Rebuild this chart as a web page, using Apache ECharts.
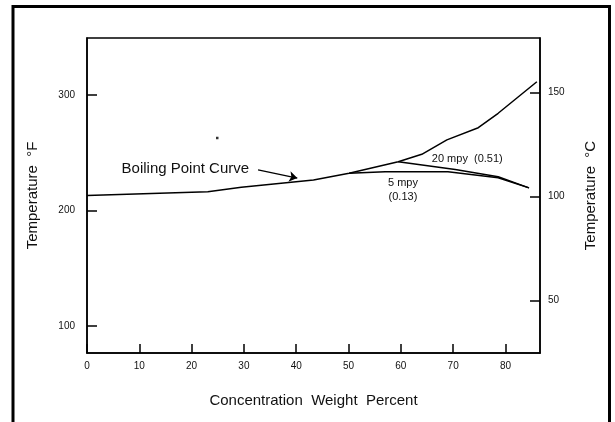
<!DOCTYPE html>
<html>
<head>
<meta charset="utf-8">
<script src="https://cdn.jsdelivr.net/npm/echarts@6/dist/echarts.min.js"></script>
<style>
  html, body { margin: 0; padding: 0; background: #fff; }
  #main { width: 615px; height: 422px; }
</style>
</head>
<body>
<div id="main"></div>
<script>
// tick labels
var xTicks = [0, 10, 20, 30, 40, 50, 60, 70, 80]
var fTicks = [100, 200, 300]
var cTicks = [50, 100, 150]

// boiling point curve (wt %, deg F)
var bpConc = [0, 23.1, 29.5, 43.3, 50.1, 59.5, 64.0, 68.8, 74.8, 78.6, 86.0]
var bpTemp = [213, 216.3, 220.1, 226.4, 232.2, 242.3, 248.7, 261.2, 271.7, 284.2, 311.5]

// 5 mpy (0.13) iso-corrosion line
var mpy5Conc = [50.1, 57, 69, 78.6, 84.5]
var mpy5Temp = [232.2, 233.5, 233.5, 228.3, 219.6]

// 20 mpy (0.51) iso-corrosion line
var mpy20Conc = [59.5, 70.4, 78.6, 84.5]
var mpy20Temp = [242.3, 235.5, 229.2, 219.6]

// stray dot in the original
var dotConc = [24.9]
var dotTemp = [262.8]

// axis ranges
var fMin = 76.6, fMax = 349.4
var xMax = 86.6

function pairs(xs, ys) {
  return xs.map(function (x, i) { return [x, ys[i]] })
}

var sans = 'Liberation Sans, Arial, sans-serif'
var narrow = 'Liberation Sans Narrow, Liberation Sans, Arial, sans-serif'
var lineStyle = { color: '#000', width: 1.5 }

var chart = echarts.init(document.getElementById('main'))
chart.setOption({
  animation: false,
  // outer frame
  graphic: [{
    type: 'rect',
    shape: { x: 13, y: 6.5, width: 596.5, height: 440 },
    style: { fill: 'none', stroke: '#000', lineWidth: 3 },
    silent: true
  }],
  grid: {
    left: 87, right: 75, top: 38, bottom: 69,
    show: true, borderColor: '#000', borderWidth: 1.5
  },
  xAxis: {
    type: 'value', min: 0, max: xMax,
    name: 'Concentration  Weight  Percent',
    nameLocation: 'middle', nameGap: 40,
    nameTextStyle: { fontFamily: sans, fontSize: 15, color: '#111' },
    axisLine: { lineStyle: lineStyle },
    axisTick: { inside: true, length: 9, lineStyle: lineStyle, customValues: xTicks },
    axisLabel: { fontFamily: narrow, fontSize: 10, color: '#111', margin: 8, customValues: xTicks },
    splitLine: { show: false }
  },
  yAxis: [{
    type: 'value', min: fMin, max: fMax, position: 'left',
    name: 'Temperature  °F',
    nameLocation: 'middle', nameGap: 47, nameRotate: 90,
    nameTextStyle: { fontFamily: sans, fontSize: 15, color: '#111' },
    axisLine: { show: true, lineStyle: lineStyle },
    axisTick: { inside: true, length: 10, lineStyle: lineStyle, customValues: fTicks },
    axisLabel: { fontFamily: narrow, fontSize: 10, color: '#111', margin: 12, customValues: fTicks },
    splitLine: { show: false }
  }, {
    type: 'value', min: (fMin - 32) / 1.8, max: (fMax - 32) / 1.8, position: 'right',
    name: 'Temperature  °C',
    nameLocation: 'middle', nameGap: 43, nameRotate: 90,
    nameTextStyle: { fontFamily: sans, fontSize: 15, color: '#111' },
    axisLine: { show: true, lineStyle: lineStyle },
    axisTick: { inside: true, length: 10, lineStyle: lineStyle, customValues: cTicks },
    axisLabel: { fontFamily: narrow, fontSize: 10, color: '#111', margin: 8, customValues: cTicks },
    splitLine: { show: false }
  }],
  series: [
    {
      name: 'Boiling Point Curve',
      type: 'line',
      data: pairs(bpConc, bpTemp),
      showSymbol: false,
      lineStyle: lineStyle,
      markLine: {
        silent: true,
        symbol: ['none', 'arrow'],
        symbolSize: 8,
        label: { show: false },
        lineStyle: { color: '#000', width: 1.3, type: 'solid' },
        itemStyle: { color: '#000' },
        data: [[{ coord: [32.7, 235.1] }, { coord: [40.2, 228.1] }]]
      },
      markPoint: {
        symbol: 'circle', symbolSize: 0, silent: true,
        label: { show: true, position: 'inside', color: '#111' },
        data: [
          { coord: [18.8, 235.9], value: 'Boiling Point Curve',
            label: { fontFamily: sans, fontSize: 15 } },
          { coord: [72.7, 244.6], value: '20 mpy  (0.51)',
            label: { fontFamily: narrow, fontSize: 11 } },
          { coord: [60.4, 217.7], value: '5 mpy\n(0.13)',
            label: { fontFamily: narrow, fontSize: 11, lineHeight: 14 } }
        ]
      }
    },
    {
      name: '5 mpy',
      type: 'line',
      data: pairs(mpy5Conc, mpy5Temp),
      showSymbol: false,
      lineStyle: lineStyle
    },
    {
      name: '20 mpy',
      type: 'line',
      data: pairs(mpy20Conc, mpy20Temp),
      showSymbol: false,
      lineStyle: lineStyle
    },
    {
      name: 'dot',
      type: 'scatter',
      data: pairs(dotConc, dotTemp),
      symbol: 'rect',
      symbolSize: 2.5,
      itemStyle: { color: '#000' }
    }
  ]
})
</script>
</body>
</html>
